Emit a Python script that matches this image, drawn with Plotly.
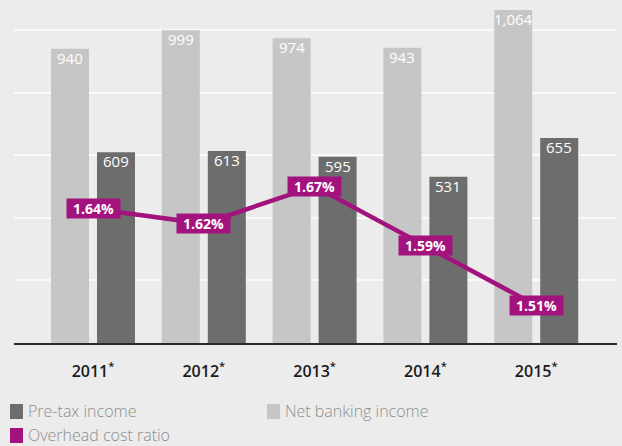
import plotly.graph_objects as go

# --- data -------------------------------------------------------------
years = ["2011", "2012", "2013", "2014", "2015"]
net_banking_income = [940, 999, 974, 943, 1064]
pre_tax_income = [609, 613, 595, 531, 655]
overhead_cost_ratio = [1.64, 1.62, 1.67, 1.59, 1.51]

# --- styling ----------------------------------------------------------
BG = "#ececec"
LIGHT = "#c6c6c6"
DARK = "#6d6d6d"
MAGENTA = "#a3137e"
FONT = "Open Sans"

W, H = 622, 446
ML, MR, MT, MB = 14, 5, 0, 103
PW, PH = W - ML - MR, H - MT - MB

# bar geometry in category units
BAR_W = 0.343
LIGHT_OFF = -0.379
DARK_OFF = 0.036

xpos = list(range(len(years)))


def px_x(px):
    return (px - ML) / PW


def px_y(py):
    return (MT + PH - py) / PH


fig = go.Figure()

fig.add_trace(go.Bar(
    x=xpos, y=net_banking_income, name="Net banking income",
    marker=dict(color=LIGHT, line=dict(width=0)),
    offset=LIGHT_OFF, width=BAR_W,
    showlegend=False, hoverinfo="skip",
))

fig.add_trace(go.Bar(
    x=xpos, y=pre_tax_income, name="Pre-tax income",
    marker=dict(color=DARK, line=dict(width=0)),
    offset=DARK_OFF, width=BAR_W,
    showlegend=False, hoverinfo="skip",
))

fig.add_trace(go.Scatter(
    x=xpos, y=overhead_cost_ratio, name="Overhead cost ratio",
    mode="lines", line=dict(color=MAGENTA, width=4.5),
    yaxis="y2", showlegend=False, hoverinfo="skip",
))

# value labels just inside the top of each bar
for series, off in ((net_banking_income, LIGHT_OFF), (pre_tax_income, DARK_OFF)):
    for i, v in zip(xpos, series):
        fig.add_annotation(
            x=i + off + BAR_W / 2, y=v, xref="x", yref="y",
            text=f"{v:,}", showarrow=False,
            font=dict(color="white", size=15, family=FONT),
            xanchor="center", yanchor="middle", yshift=-9,
        )

# ratio labels in magenta boxes
for i, v in zip(xpos, overhead_cost_ratio):
    fig.add_annotation(
        x=i, y=v, xref="x", yref="y2",
        text=f"<b>{v:.2f}%</b>", showarrow=False,
        font=dict(color="white", size=14, family=FONT),
        bgcolor=MAGENTA, borderpad=0, width=53,
        xanchor="center", yanchor="middle",
    )

# legend drawn as swatches + text
legend_items = [
    ("Pre-tax income", DARK, 10, 404),
    ("Net banking income", LIGHT, 267, 404),
    ("Overhead cost ratio", MAGENTA, 10, 428),
]
for label, col, lx, ly in legend_items:
    fig.add_shape(
        type="rect", xref="paper", yref="paper",
        x0=px_x(lx), x1=px_x(lx + 13), y0=px_y(ly), y1=px_y(ly + 15),
        fillcolor=col, line=dict(width=0), layer="above",
    )
    fig.add_annotation(
        x=px_x(lx + 16), y=px_y(ly + 7), xref="paper", yref="paper",
        text=label, showarrow=False, xanchor="left", yanchor="middle",
        font=dict(color="#8e8e8e", size=16, family=FONT, weight=300),
    )

fig.update_layout(
    width=W, height=H,
    margin=dict(l=ML, r=MR, t=MT, b=MB),
    paper_bgcolor=BG, plot_bgcolor=BG,
    barmode="overlay",
    showlegend=False,
    xaxis=dict(
        range=[-0.713, 4.729],
        tickvals=xpos,
        ticktext=[f"{y}<sup>*</sup>" for y in years],
        tickfont=dict(color="#1a1a1a", size=16, family=FONT, weight=600),
        showline=True, linecolor="#2a2a2a", linewidth=1.5,
        showgrid=False, zeroline=False, ticks="", ticklabelstandoff=13,
        fixedrange=True,
    ),
    yaxis=dict(
        range=[0, 1095.8], tickvals=[200, 400, 600, 800, 1000],
        showticklabels=False, showgrid=True, gridcolor="#fafafa", gridwidth=2,
        zeroline=False, fixedrange=True,
    ),
    yaxis2=dict(
        range=[1.4596, 1.9203], overlaying="y", side="right",
        showticklabels=False, showgrid=False, zeroline=False, fixedrange=True,
    ),
)

fig.write_html("out.html", config={"displayModeBar": False})
